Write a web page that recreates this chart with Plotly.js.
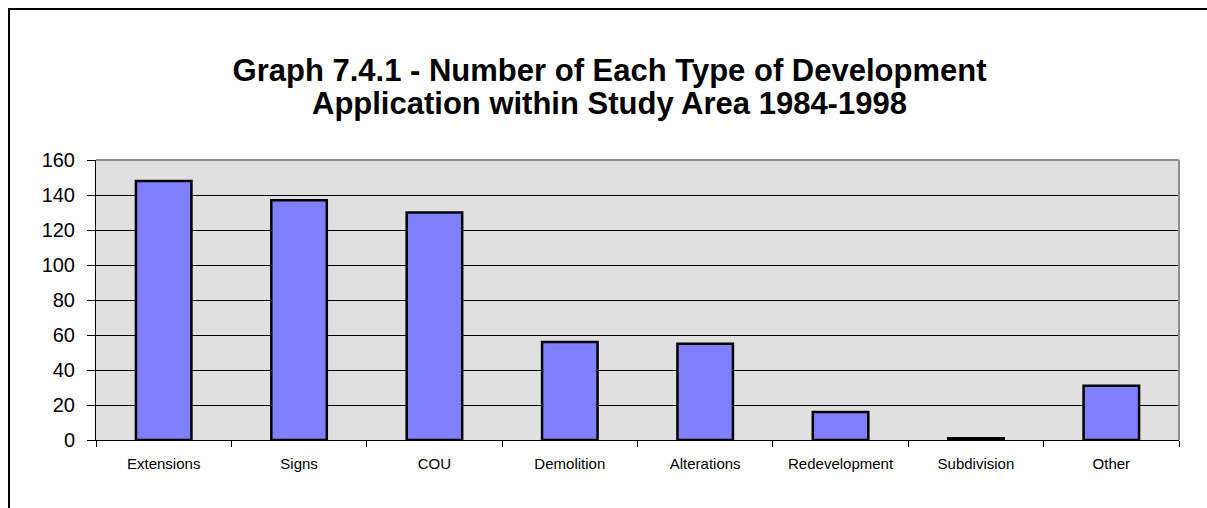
<!DOCTYPE html>
<html>
<head>
<meta charset="utf-8">
<script src="https://cdn.plot.ly/plotly-3.0.1.min.js"></script>
<style>
  html, body { margin: 0; padding: 0; background: #fff; }
  #chart { width: 1207px; height: 508px; }
  #frame { position: absolute; left: 8px; top: 8px; width: 1400px; height: 700px;
           border-top: 2px solid #000; border-left: 2px solid #000; pointer-events: none; }
</style>
</head>
<body>
<div id="chart"></div>
<div id="frame"></div>
<script>
const categories = ["Extensions", "Signs", "COU", "Demolition", "Alterations", "Redevelopment", "Subdivision", "Other"];
const counts = [148, 137, 130, 56, 55, 16, 1, 31];
const yTicks = [0, 20, 40, 60, 80, 100, 120, 140, 160];
const titleLine1 = "Graph 7.4.1 - Number of Each Type of Development";
const titleLine2 = "Application within Study Area 1984-1998";

const FONT = "Arial, 'Liberation Sans', sans-serif";
const H = 508;

const trace = {
  type: "bar",
  x: categories,
  y: counts,
  marker: { color: "#8080ff", line: { color: "#000", width: 2.5 } },
  hoverinfo: "x+y"
};

const titleFont = { family: FONT, size: 31, color: "#000", weight: "bold" };

const layout = {
  width: 1207,
  height: H,
  margin: { l: 96, r: 28, t: 160, b: 68, pad: 0 },
  paper_bgcolor: "rgba(0,0,0,0)",
  plot_bgcolor: "#e0e0e0",
  showlegend: false,
  bargap: 0.59,
  font: { family: FONT, color: "#000" },
  title: {
    text: titleLine1,
    font: titleFont,
    x: 0.505, xref: "container", xanchor: "center",
    y: 1 - 70 / H, yref: "container", yanchor: "middle"
  },
  annotations: [
    { text: titleLine2, xref: "paper", yref: "paper", showarrow: false,
      x: (609 - 96) / (1207 - 96 - 28), xanchor: "center",
      y: 1 + (160 - 103) / (508 - 160 - 68), yanchor: "middle",
      font: titleFont }
  ],
  xaxis: {
    type: "category",
    tickson: "boundaries",
    ticks: "outside",
    ticklen: 6,
    tickcolor: "#000",
    tickwidth: 1,
    showline: true,
    linecolor: "#000",
    linewidth: 1,
    showgrid: false,
    ticklabelstandoff: 10,
    tickfont: { family: FONT, size: 15, color: "#000" },
    fixedrange: true
  },
  yaxis: {
    range: [0, 160],
    tickvals: yTicks,
    ticktext: yTicks.map(String),
    ticks: "outside",
    ticklen: 8,
    tickcolor: "#000",
    showline: true,
    linecolor: "#000",
    linewidth: 1,
    showgrid: true,
    gridcolor: "#000",
    gridwidth: 1,
    zeroline: false,
    ticklabelstandoff: 8,
    tickfont: { family: FONT, size: 20, color: "#000" },
    fixedrange: true
  },
  shapes: [
    { type: "line", xref: "paper", yref: "paper", x0: 0, x1: 1, y0: 1, y1: 1,
      line: { color: "#909090", width: 2 }, layer: "above" },
    { type: "line", xref: "paper", yref: "paper", x0: 1, x1: 1, y0: 0, y1: 1,
      line: { color: "#909090", width: 2 }, layer: "above" }
  ]
};

Plotly.newPlot("chart", [trace], layout, { displayModeBar: false, staticPlot: true });
</script>
</body>
</html>
